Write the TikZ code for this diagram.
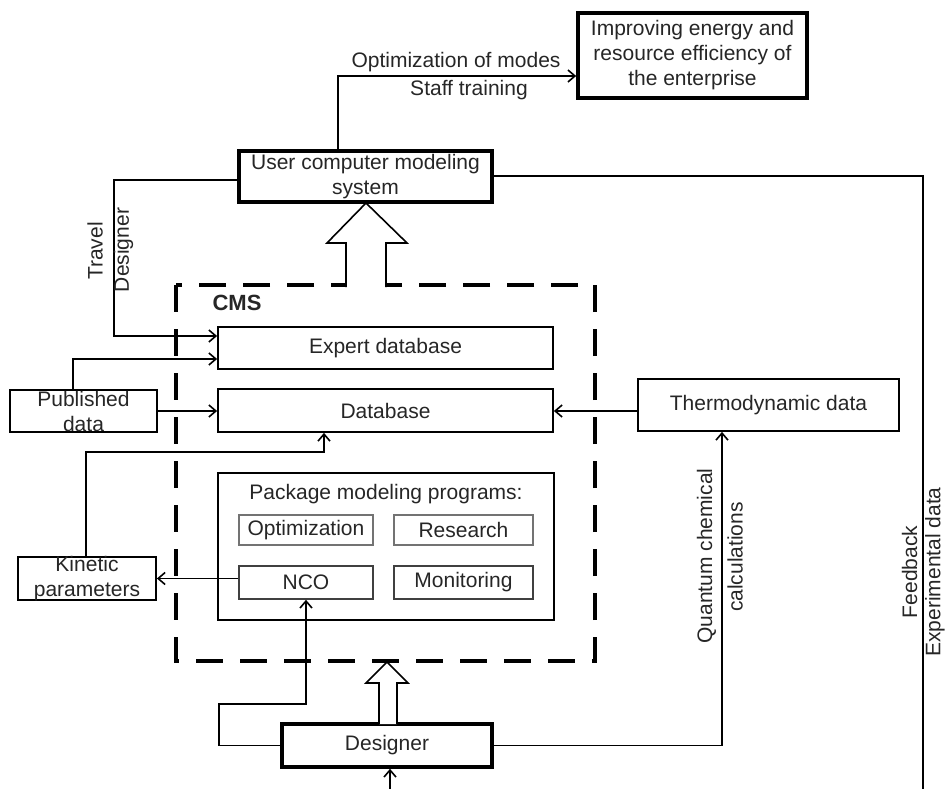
\documentclass[tikz,border=0pt]{standalone}
\usepackage{fontspec}
\setmainfont{Liberation Sans}
\usetikzlibrary{arrows.meta}
\begin{document}
\begin{tikzpicture}[x=1pt,y=-1pt,
  font=\fontsize{21}{25}\selectfont,
  box/.style={draw=black,line width=1.8pt,inner sep=0pt,fill=white},
  thickbox/.style={draw=black,line width=3.6pt,inner sep=0pt,fill=white},
  subbox/.style={draw=black!75,line width=1.6pt,inner sep=0pt},
  txt/.style={inner sep=0pt,align=center,text=black!85},
  conn/.style={line width=1.8pt},
  arr/.style={conn,-{Straight Barb[length=7pt,width=12pt,line width=1.6pt]}},
  hollow/.style={draw=black,line width=1.6pt,fill=white,line join=miter}]
\useasboundingbox (0,0) rectangle (946,789);

% CMS dashed frame
\draw[line width=3.2pt,dash pattern=on 27pt off 17pt] (176,285) rectangle (595,661);
\node[txt,font=\fontsize{22}{25}\selectfont\bfseries] (cmslbl) at (237,303) {CMS};

% boxes
\node[thickbox,minimum width=229pt,minimum height=85pt] (imp) at (692.5,55.5) {};
\node[txt] at (imp) {Improving energy and\\resource efficiency of\\the enterprise};
\node[thickbox,minimum width=253pt,minimum height=51pt] (ucms) at (365.5,176.5) {};
\node[txt] at (ucms) {User computer modeling\\system};
\node[box,minimum width=335pt,minimum height=42pt] (expert) at (385.5,348) {};
\node[txt] at (expert) {Expert database};
\node[box,minimum width=335pt,minimum height=43pt] (db) at (385.5,410.5) {};
\node[txt] at (db) {Database};
\node[box,minimum width=147pt,minimum height=42pt] (pub) at (83.5,411) {};
\node[txt] at (pub) {Published\\data};
\node[box,minimum width=261pt,minimum height=52pt] (thermo) at (768.5,405) {};
\node[txt] at (thermo) {Thermodynamic data};
\node[box,minimum width=138pt,minimum height=43pt] (kin) at (87,578.5) {};
\node[txt] at (kin) {Kinetic\\parameters};
\node[box,minimum width=336pt,minimum height=147pt] (pkg) at (386,546.5) {};
\node[txt] (pkglbl) at (386,494) {Package modeling programs:};
\node[subbox,draw=black!55,minimum width=134pt,minimum height=30pt] (opt) at (306,530) {};
\node[txt] at (opt) {Optimization};
\node[subbox,draw=black!55,minimum width=139pt,minimum height=30pt] (res) at (463.5,530) {};
\node[txt] at (res) {Research};
\node[subbox,minimum width=134pt,minimum height=33pt] (nco) at (306,582.5) {};
\node[txt] at (nco) {NCO};
\node[subbox,minimum width=139pt,minimum height=33pt] (mon) at (463.5,582.5) {};
\node[txt] at (mon) {Monitoring};
\node[thickbox,minimum width=210pt,minimum height=43pt] (des) at (387,745.5) {};
\node[txt] at (des) {Designer};

% hollow arrows
\draw[hollow] (346,287) -- (346,243) -- (327,243) -- (366,203) -- (407,243) -- (386,243) -- (386,287);
\draw[hollow] (379,724) -- (379,683) -- (366,683) -- (387,662) -- (408,683) -- (397,683) -- (397,724);

% coordinates
\coordinate (c1) at (338,76);
\coordinate (c2) at (923,789);
\coordinate (t1) at (114,180);
\coordinate (t2) at (114,336);
\coordinate (p1) at (73,359);
\coordinate (k1) at (86,452);
\coordinate (k2) at (324,452);
\coordinate (d1) at (219,704);
\coordinate (q1) at (722,745);
\coordinate (b1) at (390,789);

% connectors
\draw[arr] (ucms.north -| c1) -- (c1) -- (imp.west |- c1);
\node[txt] (l1) at (456,62) {Optimization of modes};
\node[txt] (l2) at (469,90) {Staff training};

\draw[conn] (ucms.east |- 0,176) -| (c2);
\node[txt,rotate=90] (l3) at (909.5,572) {Feedback};
\node[txt,rotate=90] (l4) at (935,572) {Experimental data};

\draw[arr] (ucms.west |- t1) -- (t1) -- (t2) -- (expert.west |- t2);
\node[txt,rotate=90] (l5) at (95,251) {Travel};
\node[txt,rotate=90] (l6) at (123.5,250) {Designer};

\draw[arr] (pub.north -| p1) -- (p1) -- (expert.west |- p1);
\draw[arr] (pub.east) -- (db.west |- pub.east);
\draw[arr] (thermo.west |- 0,411) -- (db.east |- 0,411);
\draw[arr] (kin.north -| k1) -- (k1) -- (k2) -- (db.south -| k2);
\draw[arr] (nco.west |- kin.east) -- (kin.east);
\draw[arr] (des.west) -| (d1) -| (nco.south);
\draw[arr] (des.east) -| (thermo.south -| q1);
\node[txt,rotate=90] (l7) at (706.5,556) {Quantum chemical};
\node[txt,rotate=90] (l8) at (735,557) {calculations};
\draw[arr] (b1) -- (des.south -| b1);
\end{tikzpicture}
\end{document}
